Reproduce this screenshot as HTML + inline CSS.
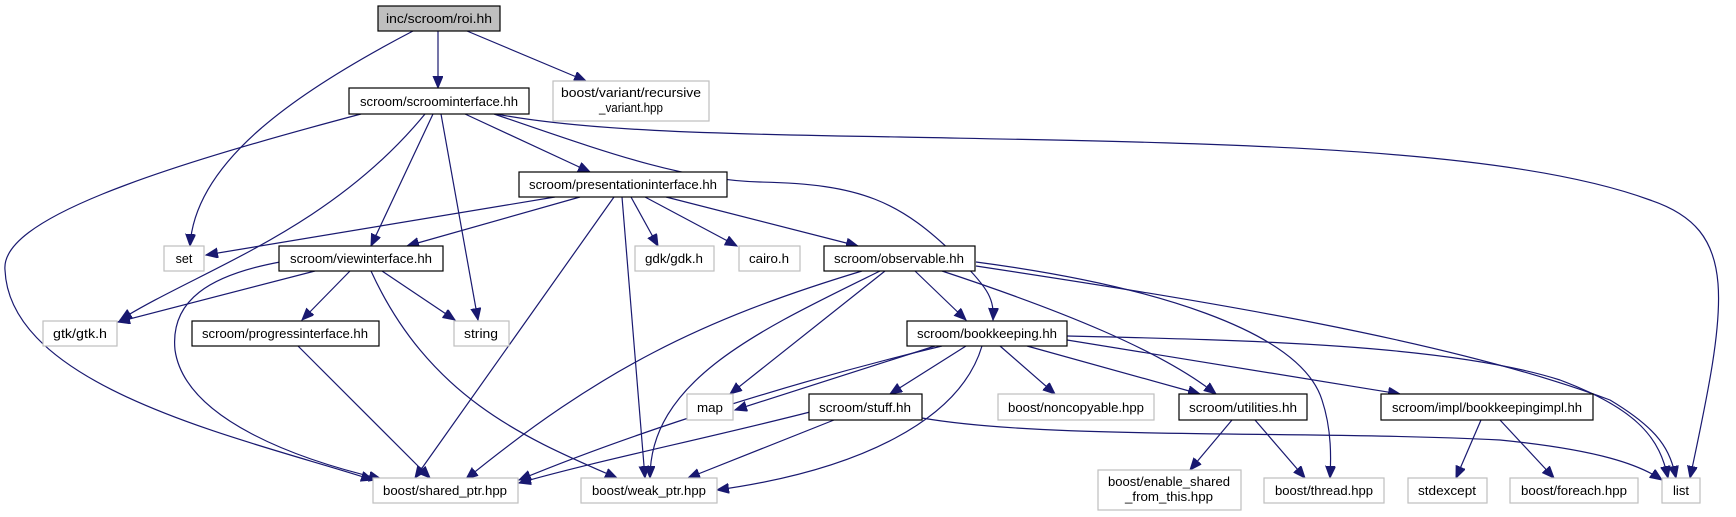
<!DOCTYPE html>
<html><head><meta charset="utf-8"><style>
html,body{margin:0;padding:0;background:#fff;}
svg{display:block;}
text{font-family:"Liberation Sans",Arial,sans-serif;font-size:12.5px;fill:#000;}
.b{fill:#fff;stroke:#000;stroke-width:1.2;}
.g{fill:#fff;stroke:#bfbfbf;stroke-width:1.2;}
.e{fill:none;stroke:#191970;stroke-width:1.2;}
</style></head><body>
<svg width="1736" height="517" viewBox="0 0 1736 517" xmlns="http://www.w3.org/2000/svg">
<defs>
<marker id="a" markerUnits="userSpaceOnUse" markerWidth="14" markerHeight="12" refX="12" refY="5" orient="auto">
<path d="M0,0 L12,5 L0,10 z" fill="#191970" stroke="#191970"/>
</marker>
</defs>
<g marker-end="url(#a)">
<path class="e" d="M413,31 C300,90 195,160 190,246"/>
<path class="e" d="M438,31 L438,88"/>
<path class="e" d="M467,31 L586,81"/>
<path class="e" d="M361,114 C150,170 0,220 5,270 C10,390 250,440 373,480"/>
<path class="e" d="M425,114 C330,230 200,270 120,320"/>
<path class="e" d="M433,114 L371,246"/>
<path class="e" d="M441,114 L478,320"/>
<path class="e" d="M465,114 L590,172"/>
<path class="e" d="M494,114 C600,150 680,180 760,182 C860,184 900,200 960,260 C990,290 994,300 993,320"/>
<path class="e" d="M496,114 C580,130 700,134 900,137 C1200,143 1500,145 1650,200 C1740,230 1728,300 1690,478"/>
<path class="e" d="M555,197 L206,255"/>
<path class="e" d="M580,197 L407,246"/>
<path class="e" d="M614,197 L415,478"/>
<path class="e" d="M622,197 L645,478"/>
<path class="e" d="M631,197 L658,246"/>
<path class="e" d="M645,197 L737,246"/>
<path class="e" d="M666,197 L858,246"/>
<path class="e" d="M315,271 L118,322"/>
<path class="e" d="M280,262 C210,275 170,300 175,350 C185,420 300,460 381,479"/>
<path class="e" d="M350,271 L302,320"/>
<path class="e" d="M382,271 L455,320"/>
<path class="e" d="M371,271 C430,400 530,440 617,478"/>
<path class="e" d="M298,346 L430,478"/>
<path class="e" d="M862,271 C700,320 600,370 466,479"/>
<path class="e" d="M880,271 C760,330 650,380 650,478"/>
<path class="e" d="M885,271 L730,394"/>
<path class="e" d="M915,271 L966,320"/>
<path class="e" d="M942,271 C1060,310 1160,350 1216,394"/>
<path class="e" d="M976,262 C1150,285 1300,330 1322,400 C1332,430 1331,460 1330,478"/>
<path class="e" d="M976,266 C1200,300 1450,340 1610,400 C1660,430 1670,450 1676,478"/>
<path class="e" d="M942,346 C800,380 640,430 519,480"/>
<path class="e" d="M935,346 L735,410"/>
<path class="e" d="M966,346 L890,394"/>
<path class="e" d="M982,346 C960,420 860,470 717,490"/>
<path class="e" d="M1000,346 L1055,394"/>
<path class="e" d="M1027,346 L1200,394"/>
<path class="e" d="M1067,340 L1400,394"/>
<path class="e" d="M1067,336 C1250,340 1450,345 1560,380 C1640,410 1660,440 1668,478"/>
<path class="e" d="M810,412 C700,440 600,460 519,483"/>
<path class="e" d="M834,420 L688,478"/>
<path class="e" d="M922,418 C1050,440 1300,430 1500,440 C1600,450 1640,465 1662,480"/>
<path class="e" d="M1232,420 L1190,470"/>
<path class="e" d="M1255,420 L1305,478"/>
<path class="e" d="M1481,420 L1456,478"/>
<path class="e" d="M1500,420 L1554,478"/>
</g>

<rect x="378" y="6" width="122" height="25" fill="#bfbfbf" stroke="#000" stroke-width="1.2"/>
<text x="439" y="23" text-anchor="middle" textLength="106" lengthAdjust="spacingAndGlyphs">inc/scroom/roi.hh</text>

<rect class="b" x="349" y="88" width="180" height="26"/>
<text x="439" y="106" text-anchor="middle" textLength="158" lengthAdjust="spacingAndGlyphs">scroom/scroominterface.hh</text>

<rect class="g" x="553" y="81" width="156" height="40"/>
<text x="631" y="97" text-anchor="middle" textLength="140" lengthAdjust="spacingAndGlyphs">boost/variant/recursive</text>
<text x="631" y="112" text-anchor="middle" textLength="64" lengthAdjust="spacingAndGlyphs">_variant.hpp</text>

<rect class="b" x="519" y="172" width="208" height="25"/>
<text x="623" y="189" text-anchor="middle" textLength="188" lengthAdjust="spacingAndGlyphs">scroom/presentationinterface.hh</text>

<rect class="g" x="164" y="246" width="40" height="25"/>
<text x="184" y="263" text-anchor="middle">set</text>

<rect class="b" x="279" y="246" width="164" height="25"/>
<text x="361" y="263" text-anchor="middle" textLength="142" lengthAdjust="spacingAndGlyphs">scroom/viewinterface.hh</text>

<rect class="g" x="635" y="246" width="79" height="25"/>
<text x="674" y="263" text-anchor="middle" textLength="58" lengthAdjust="spacingAndGlyphs">gdk/gdk.h</text>

<rect class="g" x="739" y="246" width="61" height="25"/>
<text x="769" y="263" text-anchor="middle" textLength="40" lengthAdjust="spacingAndGlyphs">cairo.h</text>

<rect class="b" x="824" y="246" width="151" height="25"/>
<text x="899" y="263" text-anchor="middle" textLength="130" lengthAdjust="spacingAndGlyphs">scroom/observable.hh</text>

<rect class="g" x="43" y="321" width="74" height="25"/>
<text x="80" y="338" text-anchor="middle" textLength="54" lengthAdjust="spacingAndGlyphs">gtk/gtk.h</text>

<rect class="b" x="192" y="321" width="187" height="25"/>
<text x="285" y="338" text-anchor="middle" textLength="166" lengthAdjust="spacingAndGlyphs">scroom/progressinterface.hh</text>

<rect class="g" x="454" y="321" width="55" height="25"/>
<text x="481" y="338" text-anchor="middle" textLength="34" lengthAdjust="spacingAndGlyphs">string</text>

<rect class="b" x="907" y="321" width="160" height="25"/>
<text x="987" y="338" text-anchor="middle" textLength="140" lengthAdjust="spacingAndGlyphs">scroom/bookkeeping.hh</text>

<rect class="g" x="687" y="394" width="46" height="26"/>
<text x="710" y="412" text-anchor="middle" textLength="26" lengthAdjust="spacingAndGlyphs">map</text>

<rect class="b" x="809" y="394" width="113" height="26"/>
<text x="865" y="412" text-anchor="middle" textLength="92" lengthAdjust="spacingAndGlyphs">scroom/stuff.hh</text>

<rect class="g" x="998" y="394" width="156" height="26"/>
<text x="1076" y="412" text-anchor="middle" textLength="136" lengthAdjust="spacingAndGlyphs">boost/noncopyable.hpp</text>

<rect class="b" x="1179" y="394" width="128" height="26"/>
<text x="1243" y="412" text-anchor="middle" textLength="108" lengthAdjust="spacingAndGlyphs">scroom/utilities.hh</text>

<rect class="b" x="1381" y="394" width="212" height="26"/>
<text x="1487" y="412" text-anchor="middle" textLength="190" lengthAdjust="spacingAndGlyphs">scroom/impl/bookkeepingimpl.hh</text>

<rect class="g" x="373" y="478" width="145" height="25"/>
<text x="445" y="495" text-anchor="middle" textLength="124" lengthAdjust="spacingAndGlyphs">boost/shared_ptr.hpp</text>

<rect class="g" x="581" y="478" width="136" height="25"/>
<text x="649" y="495" text-anchor="middle" textLength="114" lengthAdjust="spacingAndGlyphs">boost/weak_ptr.hpp</text>

<rect class="g" x="1098" y="470" width="143" height="40"/>
<text x="1169" y="486" text-anchor="middle" textLength="122" lengthAdjust="spacingAndGlyphs">boost/enable_shared</text>
<text x="1169" y="501" text-anchor="middle" textLength="88" lengthAdjust="spacingAndGlyphs">_from_this.hpp</text>

<rect class="g" x="1264" y="478" width="120" height="25"/>
<text x="1324" y="495" text-anchor="middle" textLength="98" lengthAdjust="spacingAndGlyphs">boost/thread.hpp</text>

<rect class="g" x="1408" y="478" width="79" height="25"/>
<text x="1447" y="495" text-anchor="middle" textLength="58" lengthAdjust="spacingAndGlyphs">stdexcept</text>

<rect class="g" x="1510" y="478" width="128" height="25"/>
<text x="1574" y="495" text-anchor="middle" textLength="106" lengthAdjust="spacingAndGlyphs">boost/foreach.hpp</text>

<rect class="g" x="1662" y="478" width="38" height="25"/>
<text x="1681" y="495" text-anchor="middle" textLength="16" lengthAdjust="spacingAndGlyphs">list</text>
</svg>
</body></html>
